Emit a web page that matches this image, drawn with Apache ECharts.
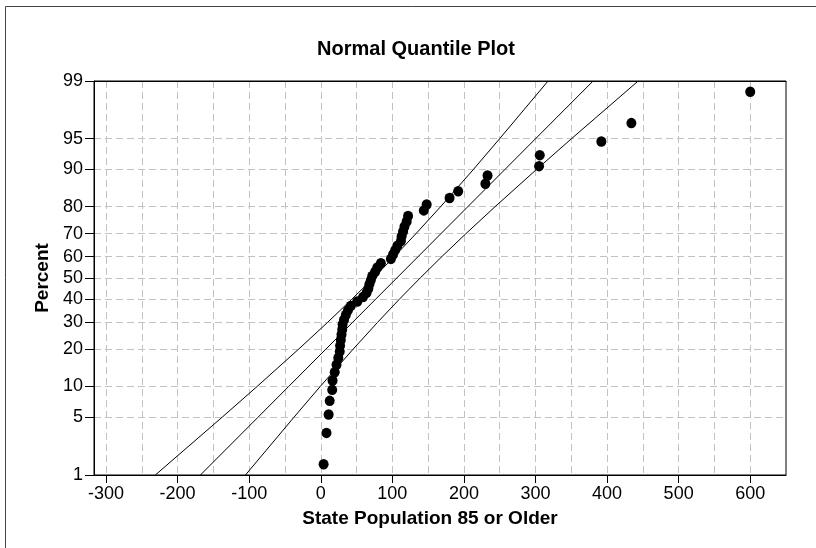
<!DOCTYPE html>
<html>
<head>
<meta charset="utf-8">
<script src="https://cdn.jsdelivr.net/npm/echarts@6/dist/echarts.min.js"></script>
<style>
html,body{margin:0;padding:0;background:#fff;}
#chart{width:816px;height:548px;}
</style>
</head>
<body>
<div id="chart"></div>
<script>
// ---------- data ----------
const titleText = 'Normal Quantile Plot';
const xName = 'State Population 85 or Older';
const yName = 'Percent';

const percentTicks = [1, 5, 10, 20, 30, 40, 50, 60, 70, 80, 90, 95, 99];
const percentGrid = [5, 10, 20, 30, 40, 50, 60, 70, 80, 90, 95];
const xLabelTicks = [-300, -200, -100, 0, 100, 200, 300, 400, 500, 600];
const xGridTicks = [-300, -250, -200, -150, -100, -50, 0, 50, 100, 150, 200, 250, 300, 350, 400, 450, 500, 550, 600];

// observed points: value and plotted percent
const pointValues = [4, 8, 11, 12.5, 16, 16.5, 19.5, 22, 24.5, 26.5,
  27, 28, 29, 30, 30.5, 32.5, 35, 38, 42, 51,
  59, 64, 66.5, 68, 70, 72, 76, 79, 84, 98,
  101, 104, 107, 112, 113, 115, 117, 120, 122, 144,
  148, 180, 192, 230, 233, 305, 306, 392, 434, 600];
const pointPercents = [1.39, 3.37, 5.36, 7.34, 9.33, 11.31, 13.29, 15.28, 17.26, 19.25,
  21.23, 23.21, 25.20, 27.18, 29.17, 31.15, 33.13, 35.12, 37.10, 39.09,
  41.07, 43.06, 45.04, 47.02, 49.01, 50.99, 52.98, 54.96, 56.94, 58.93,
  60.91, 62.90, 64.88, 66.87, 68.85, 70.83, 72.82, 74.80, 76.79, 78.77,
  80.75, 82.74, 84.72, 86.71, 88.69, 90.67, 92.66, 94.64, 96.63, 98.61];

// fitted line and confidence band, read at each percent level
const linePercents = [1, 5, 10, 20, 30, 40, 50, 60, 70, 80, 90, 95, 99];
const fitCenter = [-168.1, -87.7, -44.9, 7.0, 44.4, 76.3, 106.2, 136.1, 168.0, 205.4, 257.3, 300.1, 380.5];
const bandLower = [-231.1, -137.9, -89.0, -31.1, 9.5, 43.1, 73.5, 102.9, 133.1, 167.4, 213.2, 249.9, 317.6];
const bandUpper = [-105.2, -37.5, -0.8, 45.1, 79.3, 109.5, 138.9, 169.3, 202.9, 243.5, 301.4, 350.3, 443.5];

// ---------- probability scale (inverse normal) ----------
function normInv(p) {
  const a = [-3.969683028665376e+01, 2.209460984245205e+02, -2.759285104469687e+02, 1.383577518672690e+02, -3.066479806614716e+01, 2.506628277459239e+00];
  const b = [-5.447609879822406e+01, 1.615858368580409e+02, -1.556989798598866e+02, 6.680131188771972e+01, -1.328068155288572e+01];
  const c = [-7.784894002430293e-03, -3.223964580411365e-01, -2.400758277161838e+00, -2.549732539343734e+00, 4.374664141464968e+00, 2.938163982698783e+00];
  const d = [7.784695709041462e-03, 3.224671290700398e-01, 2.445134137142996e+00, 3.754408661907416e+00];
  const pl = 0.02425, ph = 1 - pl;
  let q, r;
  if (p < pl) {
    q = Math.sqrt(-2 * Math.log(p));
    return (((((c[0]*q+c[1])*q+c[2])*q+c[3])*q+c[4])*q+c[5]) / ((((d[0]*q+d[1])*q+d[2])*q+d[3])*q+1);
  }
  if (p > ph) {
    q = Math.sqrt(-2 * Math.log(1 - p));
    return -(((((c[0]*q+c[1])*q+c[2])*q+c[3])*q+c[4])*q+c[5]) / ((((d[0]*q+d[1])*q+d[2])*q+d[3])*q+1);
  }
  q = p - 0.5; r = q * q;
  return (((((a[0]*r+a[1])*r+a[2])*r+a[3])*r+a[4])*r+a[5])*q / (((((b[0]*r+b[1])*r+b[2])*r+b[3])*r+b[4])*r+1);
}
const zOf = pct => normInv(pct / 100);
const zTicks = percentTicks.map(zOf);
const zGrid = percentGrid.map(zOf);
const Z_MIN = zTicks[0], Z_MAX = zTicks[zTicks.length - 1];
const X_MIN = -316.8, X_MAX = 650;

const FONT = '"Liberation Sans", Arial, sans-serif';
const GRID_LINE = {color: '#c2c2c2', width: 1, type: [7, 4]};

const pairs = (xs, ps) => xs.map((x, i) => [x, zOf(ps[i])]);

const chart = echarts.init(document.getElementById('chart'), null, {renderer: 'canvas'});
chart.setOption({
  backgroundColor: '#ffffff',
  animation: false,
  title: {
    text: titleText,
    left: 411,
    textAlign: 'center',
    top: 34,
    textStyle: {fontFamily: FONT, fontSize: 20, fontWeight: 'bold', color: '#000'}
  },
  graphic: [{
    type: 'rect',
    shape: {x: 5.5, y: 6.5, width: 1200, height: 1200},
    style: {fill: 'none', stroke: '#444', lineWidth: 1},
    silent: true, z: -10
  }],
  grid: {
    left: 94, right: 30, top: 81, bottom: 73,
    show: true, borderColor: '#000', borderWidth: 1, backgroundColor: 'transparent'
  },
  xAxis: [{
    type: 'value',
    min: X_MIN, max: X_MAX,
    name: xName,
    nameLocation: 'middle',
    nameGap: 34,
    nameTextStyle: {fontFamily: FONT, fontSize: 19, fontWeight: 'bold', color: '#000', padding: [0, 20, 0, 0]},
    axisLine: {show: true, onZero: false, lineStyle: {color: '#000', width: 1}},
    axisTick: {show: true, length: 8, lineStyle: {color: '#000'}, customValues: xLabelTicks},
    axisLabel: {fontFamily: FONT, fontSize: 18, color: '#000', margin: 10, customValues: xLabelTicks},
    splitLine: {show: false}
  }, {
    type: 'value',
    min: X_MIN, max: X_MAX,
    position: 'bottom',
    axisLine: {show: false},
    axisTick: {show: false, customValues: xGridTicks},
    axisLabel: {show: false, customValues: xGridTicks},
    splitLine: {show: true, lineStyle: GRID_LINE}
  }, {
    type: 'value',
    min: X_MIN, max: X_MAX,
    position: 'top',
    axisLine: {show: true, onZero: false, lineStyle: {color: '#000', width: 1}},
    axisTick: {show: false},
    axisLabel: {show: false},
    splitLine: {show: false}
  }],
  yAxis: [{
    type: 'value',
    min: Z_MIN, max: Z_MAX,
    name: yName,
    nameLocation: 'middle',
    nameGap: 42,
    nameTextStyle: {fontFamily: FONT, fontSize: 19, fontWeight: 'bold', color: '#000'},
    axisLine: {show: true, onZero: false, lineStyle: {color: '#000', width: 1}},
    axisTick: {show: true, length: 9, lineStyle: {color: '#000'}, customValues: zTicks},
    axisLabel: {
      fontFamily: FONT, fontSize: 18, color: '#000', margin: 11, customValues: zTicks,
      formatter: v => {
        let best = 0;
        zTicks.forEach((z, i) => { if (Math.abs(z - v) < Math.abs(zTicks[best] - v)) best = i; });
        return String(percentTicks[best]);
      }
    },
    splitLine: {show: false}
  }, {
    type: 'value',
    min: Z_MIN, max: Z_MAX,
    position: 'left',
    axisLine: {show: false},
    axisTick: {show: false, customValues: zGrid},
    axisLabel: {show: false, customValues: zGrid},
    splitLine: {show: true, lineStyle: GRID_LINE}
  }],
  series: [
    {type: 'line', xAxisIndex: 0, yAxisIndex: 0, data: pairs(bandLower, linePercents), symbol: 'none', lineStyle: {color: '#000', width: 1}, clip: true, silent: true},
    {type: 'line', xAxisIndex: 0, yAxisIndex: 0, data: pairs(fitCenter, linePercents), symbol: 'none', lineStyle: {color: '#000', width: 1}, clip: true, silent: true},
    {type: 'line', xAxisIndex: 0, yAxisIndex: 0, data: pairs(bandUpper, linePercents), symbol: 'none', lineStyle: {color: '#000', width: 1}, clip: true, silent: true},
    {type: 'scatter', xAxisIndex: 0, yAxisIndex: 0, data: pairs(pointValues, pointPercents), symbol: 'circle', symbolSize: [10, 10.5], itemStyle: {color: '#000', opacity: 1}}
  ]
});
</script>
</body>
</html>
